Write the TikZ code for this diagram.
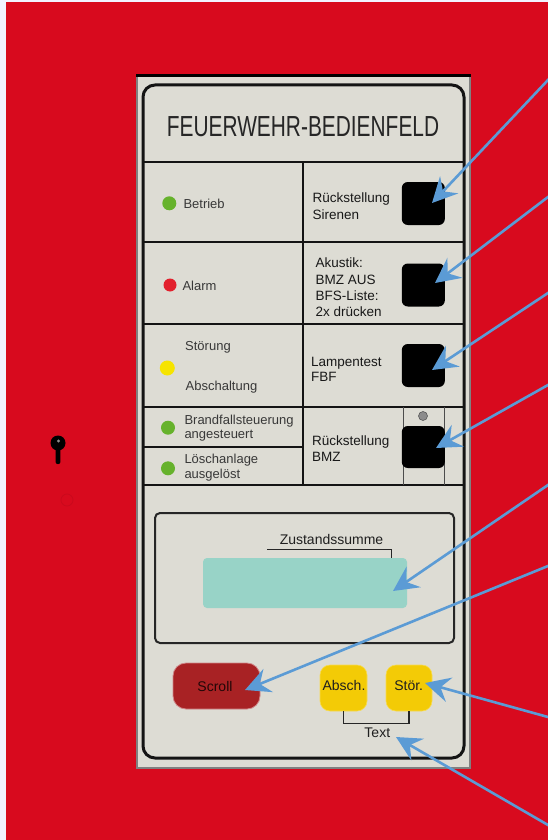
\documentclass[tikz,border=0pt]{standalone}
\usepackage{fontspec}
\setmainfont{Liberation Sans}
\usepackage{graphicx}
\usetikzlibrary{arrows.meta}
\definecolor{bgred}{HTML}{D80A1E}
\definecolor{panelgray}{HTML}{DDDCD4}
\definecolor{arrowblue}{HTML}{5B9BD5}
\definecolor{ledgreen}{HTML}{66B22C}
\definecolor{ledred}{HTML}{E2202C}
\definecolor{ledyellow}{HTML}{F6E400}
\definecolor{displayteal}{HTML}{98D3C7}
\definecolor{scrollred}{HTML}{A82224}
\definecolor{btnyellow}{HTML}{F3CB06}
\tikzset{
  lbl/.style={anchor=base west, inner sep=0pt, font=\fontsize{13.5}{15}\selectfont, text=black!90},
  lblL/.style={lbl, font=\fontsize{13}{15}\selectfont, text=black!78},
  ctr/.style={anchor=base, inner sep=0pt, font=\fontsize{14}{16}\selectfont, text=black!88},
  frameline/.style={line width=2.6pt, draw=black!92},
  pushbtn/.style={fill=black, rounded corners=6pt, minimum width=43pt, minimum height=43pt, inner sep=0pt},
  led/.style={circle, inner sep=0pt, minimum size=#1},
  softbtn/.style={rounded corners=10pt, minimum width=47pt, minimum height=46pt, inner sep=0pt, fill=btnyellow, draw=btnyellow!70!white, line width=0.6pt},
  callout/.style={draw=arrowblue, line width=2.6pt, shorten <=-5pt, -{Stealth[length=25pt,width=25pt,inset=9pt]}},
}
\begin{document}
\begin{tikzpicture}[x=1pt,y=-1pt]
\useasboundingbox (0,0) rectangle (548,840);
\clip (0,0) rectangle (548,840);
% background
\fill[white!95!blue] (0,0) rectangle (548,840);
\fill[bgred] (6,2) rectangle (548,840);
% keyhole and faint dimple
\fill[black] (58,443) circle (7.5);
\fill[black, rounded corners=2pt] (55.6,444) rectangle (60.4,464);
\fill[black!45] (58.5,441) circle (1.6);
\draw[bgred!93!black, line width=0.7pt] (67,500) circle (6);
% panel
\fill[panelgray] (136,74) rectangle (471,769);
\draw[black!50, line width=1.5pt] (136.8,75) rectangle (470.2,768.2);
\draw[black, line width=3pt] (136,75.5) -- (471,75.5);
\draw[line width=3pt, draw=black!92, rounded corners=12pt] (143,85) rectangle (464,758);
% grid
\foreach \yy in {162,242,324,407,485} \draw[frameline] (143,\yy) -- (464,\yy);
\draw[frameline] (143,447) -- (303,447);
\draw[frameline] (303,162) -- (303,485);
\draw[black!70, line width=1pt] (403,407) -- (403,485);
\draw[black!70, line width=1pt] (444,407) -- (444,485);
% title
\node[anchor=base, inner sep=0pt, font=\fontsize{29}{32}\selectfont, text=black!85] (title) at (303,136) {\scalebox{0.72}[1]{FEUERWEHR-BEDIENFELD}};
% push buttons
\node[pushbtn] (b1) at (423.3,203.5) {};
\node[pushbtn] (b2) at (423.3,285) {};
\node[pushbtn] (b3) at (423.3,365.5) {};
\node[pushbtn, minimum height=42pt] (b4) at (423.3,447) {};
\node[circle, fill=black!45, draw=black!65, line width=0.6pt, minimum size=9pt, inner sep=0pt] (dot) at (423,416) {};
% LEDs
\node[led=14pt, fill=ledgreen] (ledA) at (169.3,203.3) {};
\node[led=13pt, fill=ledred] (ledB) at (170,285) {};
\node[led=15pt, fill=ledyellow] (ledC) at (167.3,368) {};
\node[led=14pt, fill=ledgreen] (ledD) at (168,427.7) {};
\node[led=14pt, fill=ledgreen] (ledE) at (168,468.3) {};
% left labels
\node[lblL] (tA) at (183.3,208) {Betrieb};
\node[lblL] (tB) at (182.3,290) {Alarm};
\node[lblL] (tC1) at (185,350.7) {Störung};
\node[lblL] (tC2) at (185.5,390.7) {Abschaltung};
\node[lblL] (tD1) at (184.3,424) {Brandfallsteuerung};
\node[lblL] (tD2) at (184.3,438.3) {angesteuert};
\node[lblL] (tE1) at (184.3,463.3) {Löschanlage};
\node[lblL] (tE2) at (184.3,478.3) {ausgelöst};
% right labels
\node[lbl] (r1a) at (312.3,202.3) {Rückstellung};
\node[lbl] (r1b) at (312.3,219) {Sirenen};
\node[lbl] (r2a) at (315.5,267) {Akustik:};
\node[lbl] (r2b) at (315.5,284) {BMZ AUS};
\node[lbl] (r2c) at (315.5,300.7) {BFS-Liste:};
\node[lbl] (r2d) at (315.5,316.7) {2x drücken};
\node[lbl] (r3a) at (311,366.7) {Lampentest};
\node[lbl] (r3b) at (311,381) {FBF};
\node[lbl] (r4a) at (312,445) {Rückstellung};
\node[lbl] (r4b) at (312,461) {BMZ};
% display
\draw[black!85, line width=2pt, rounded corners=5pt] (155,513) rectangle (454,643);
\node[fill=displayteal, rounded corners=4pt, minimum width=204pt, minimum height=50pt, inner sep=0pt] (lcd) at (305,583) {};
\node[ctr] (zs) at (331.5,544) {Zustandssumme};
\coordinate (zsL) at (267,549);
\coordinate (zsR) at (391,549);
\draw[black!85, line width=1pt] (zsL) -- (zsR) -- (zsR |- lcd.north);
% bottom buttons
\node[rounded corners=13pt, minimum width=87pt, minimum height=46pt, inner sep=0pt, fill=scrollred, draw=scrollred!55!white, line width=0.8pt] (scroll) at (216.5,686) {};
\node[ctr, text=black!80!scrollred] (scrollT) at (215,691) {Scroll};
\node[softbtn] (absch) at (343.5,688) {};
\node[softbtn, minimum width=46pt] (stoer) at (409,688) {};
\node[ctr] (abschT) at (344,690.7) {Absch.};
\node[ctr] (stoerT) at (408.7,690) {Stör.};
\draw[black!85, line width=1.2pt] (absch.south) -- ++(0,12) -| (stoer.south);
\node[ctr] (txt) at (377.3,737.7) {Text};
% callout arrows
\coordinate (s1) at (548,80);   \coordinate (e1) at (432,203);
\coordinate (s2) at (548,197);  \coordinate (e2) at (435,283);
\coordinate (s3) at (548,293);  \coordinate (e3) at (432,370);
\coordinate (s4) at (548,385);  \coordinate (e4) at (436,448);
\coordinate (s5) at (548,485);  \coordinate (e5) at (393,591);
\coordinate (s6) at (548,566);  \coordinate (e6) at (245,690);
\coordinate (s7) at (548,717);  \coordinate (e7) at (425,683);
\coordinate (s8) at (548,825);  \coordinate (e8) at (396,737);
\foreach \i in {1,...,8} \draw[callout] (s\i) -- (e\i);
\end{tikzpicture}
\end{document}
